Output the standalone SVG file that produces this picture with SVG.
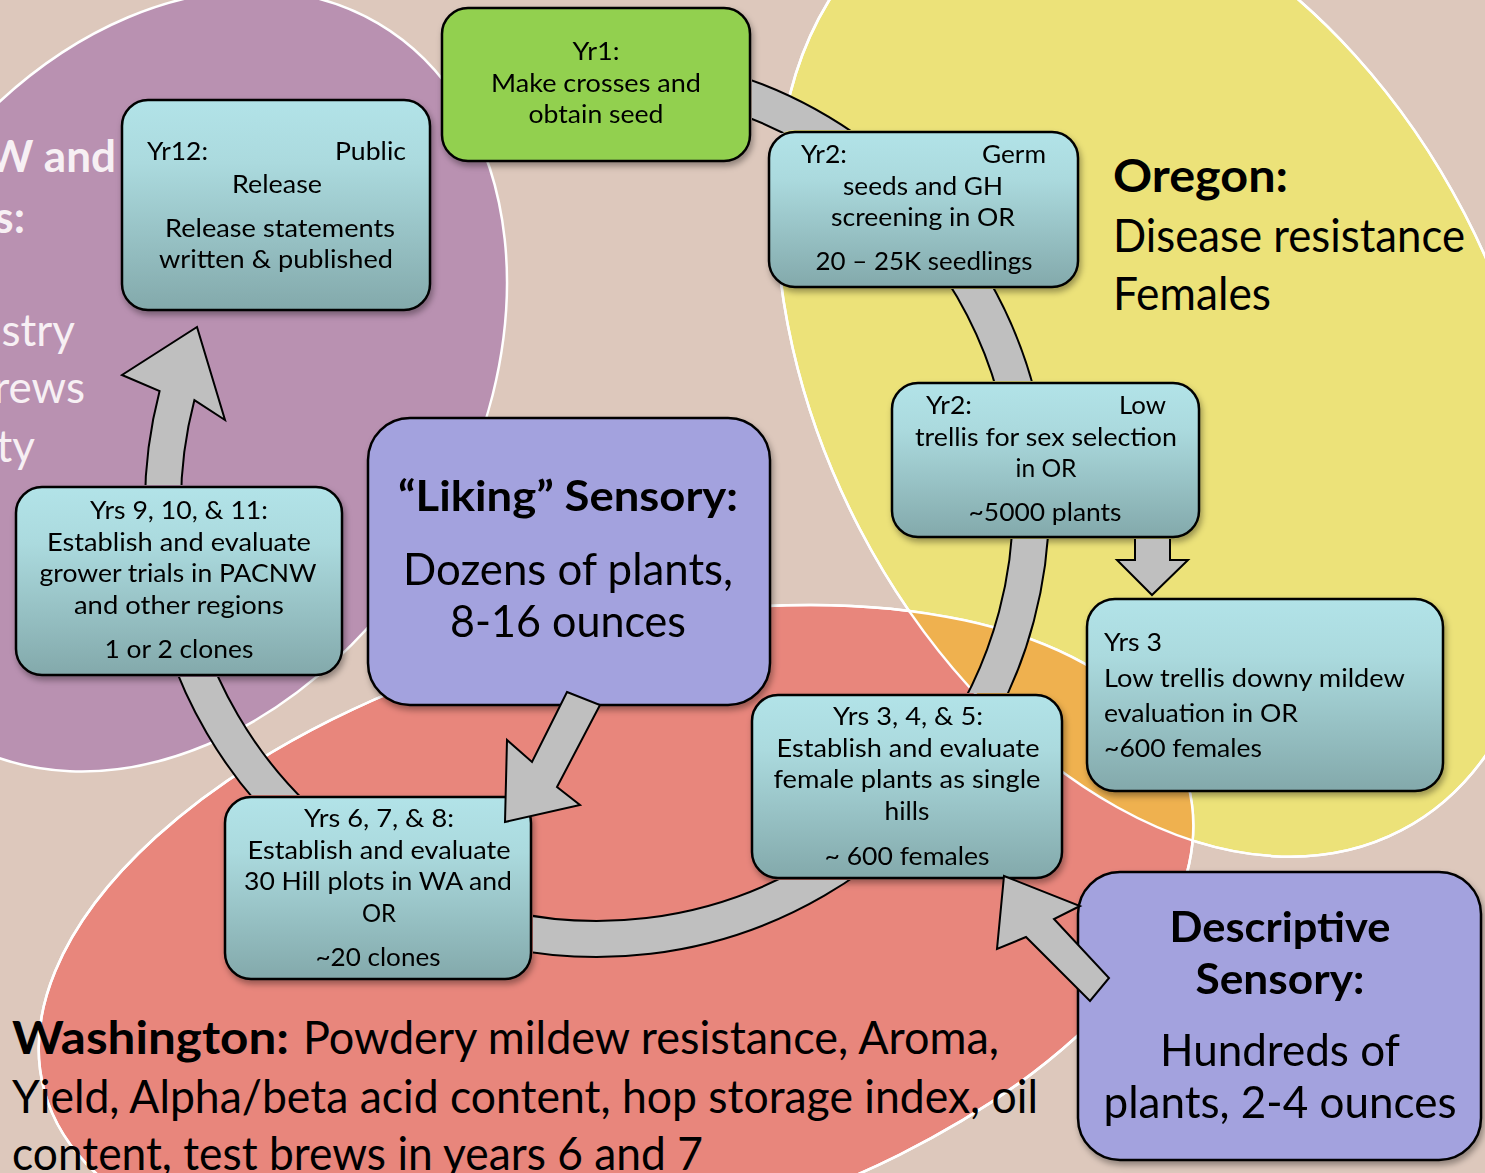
<svg xmlns="http://www.w3.org/2000/svg" width="1485" height="1173" viewBox="0 0 1485 1173">
<defs>
<style>
.bg{fill:#ddc8bc}
.zone{stroke:#fff;stroke-width:2.5}
.zline{fill:none;stroke:#fff;stroke-width:2.5}
.teal{fill:url(#tealG);stroke:#000;stroke-width:2.5}
.green{fill:#92d050;stroke:#000;stroke-width:2.5}
.lav{fill:#a3a2de;stroke:#000;stroke-width:2.5}
.arr{fill:#bfbfbf;stroke:#000;stroke-width:2;stroke-linejoin:miter}
text{font-family:Lato,"Liberation Sans",sans-serif;fill:#000}
.t{font-size:25px}
.c{text-anchor:middle}
.e{text-anchor:end}
.big{font-size:44px}
.bigb{font-size:42px;font-weight:bold}
.reg{font-size:46px}
.regb{font-size:46px;font-weight:bold}
.wh{fill:#f7f0f4;font-size:44px}
</style>
<linearGradient id="tealG" x1="0" y1="0" x2="0" y2="1">
<stop offset="0" stop-color="#b2e3e8"/>
<stop offset="0.3" stop-color="#abdade"/>
<stop offset="1" stop-color="#83a9ab"/>
</linearGradient>
<filter id="sh" x="-10%" y="-10%" width="125%" height="130%">
<feDropShadow dx="2" dy="4" stdDeviation="3" flood-color="#000" flood-opacity="0.35"/>
</filter>
<clipPath id="redClip" clipPathUnits="userSpaceOnUse">
<ellipse cx="616" cy="937" rx="592" ry="305" transform="rotate(-15 616 937)"/>
</clipPath>
<mask id="boxMask" maskUnits="userSpaceOnUse" x="0" y="0" width="1485" height="1173">
<rect x="0" y="0" width="1485" height="1173" fill="#fff"/>
<rect x="440" y="6" width="312" height="157" rx="28" fill="#000"/>
<rect x="767" y="130" width="313" height="159" rx="28" fill="#000"/>
<rect x="890" y="381" width="311" height="158" rx="28" fill="#000"/>
<rect x="750" y="693" width="314" height="187" rx="28" fill="#000"/>
<rect x="223" y="795" width="310" height="186" rx="28" fill="#000"/>
<rect x="14" y="485" width="330" height="192" rx="28" fill="#000"/>
</mask>
</defs>

<g id="background">
<rect class="bg" x="0" y="0" width="1485" height="1173"/>
<ellipse class="zone" fill="#b991b1" cx="167.5" cy="381" rx="415" ry="309" transform="rotate(-59.5 167.5 381)"/>
<ellipse class="zone" fill="#ece279" cx="1162" cy="371" rx="518" ry="341" transform="rotate(62.5 1162 371)"/>
<ellipse class="zone" fill="#e8867c" cx="616" cy="937" rx="592" ry="305" transform="rotate(-15 616 937)"/>
<g clip-path="url(#redClip)">
<ellipse fill="#efb14f" cx="1162" cy="371" rx="518" ry="341" transform="rotate(62.5 1162 371)"/>
</g>
<ellipse class="zline" cx="1162" cy="371" rx="518" ry="341" transform="rotate(62.5 1162 371)"/>
<ellipse class="zline" cx="616" cy="937" rx="592" ry="305" transform="rotate(-15 616 937)"/>
</g>

<g id="region-labels">
<text class="wh e" x="116" y="172" font-weight="bold">W and</text>
<text class="wh e" x="25" y="233" font-weight="bold">s:</text>
<text class="wh e" x="75" y="346">stry</text>
<text class="wh e" x="85" y="403">rews</text>
<text class="wh e" x="35" y="462">ty</text>
<text class="regb" x="1113" y="192" textLength="175" lengthAdjust="spacingAndGlyphs">Oregon:</text>
<text class="reg" x="1113" y="252" textLength="352" lengthAdjust="spacingAndGlyphs">Disease resistance</text>
<text class="reg" x="1113" y="310" textLength="158" lengthAdjust="spacingAndGlyphs">Females</text>
<text class="regb" x="12" y="1054" textLength="277" lengthAdjust="spacingAndGlyphs">Washington:</text>
<text class="reg" x="303" y="1054" textLength="696" lengthAdjust="spacingAndGlyphs">Powdery mildew resistance, Aroma,</text>
<text class="reg" x="12" y="1113" textLength="1026" lengthAdjust="spacingAndGlyphs">Yield, Alpha/beta acid content, hop storage index, oil</text>
<text class="reg" x="12" y="1170" textLength="691" lengthAdjust="spacingAndGlyphs">content, test brews in years 6 and 7</text>
</g>

<g id="nodes">
<g id="yr1" filter="url(#sh)">
<rect class="green" x="442" y="8" width="308" height="153" rx="26"/>
<text class="t c" x="596" y="60" textLength="47" lengthAdjust="spacingAndGlyphs">Yr1:</text>
<text class="t c" x="596" y="92" textLength="210" lengthAdjust="spacingAndGlyphs">Make crosses and</text>
<text class="t c" x="596" y="123" textLength="135" lengthAdjust="spacingAndGlyphs">obtain seed</text>
</g>
<g id="yr12" filter="url(#sh)">
<rect class="teal" x="122" y="100" width="308" height="210" rx="26"/>
<text class="t" x="147" y="160" textLength="61" lengthAdjust="spacingAndGlyphs">Yr12:</text>
<text class="t e" x="406" y="160" textLength="71" lengthAdjust="spacingAndGlyphs">Public</text>
<text class="t c" x="277" y="193" textLength="90" lengthAdjust="spacingAndGlyphs">Release</text>
<text class="t c" x="280" y="237" textLength="230" lengthAdjust="spacingAndGlyphs">Release statements</text>
<text class="t c" x="276" y="268" textLength="234" lengthAdjust="spacingAndGlyphs">written &amp; published</text>
</g>
<g id="yr2-germ" filter="url(#sh)">
<rect class="teal" x="769" y="132" width="309" height="155" rx="26"/>
<text class="t" x="801" y="163" textLength="46" lengthAdjust="spacingAndGlyphs">Yr2:</text>
<text class="t e" x="1046" y="163" textLength="64" lengthAdjust="spacingAndGlyphs">Germ</text>
<text class="t c" x="923" y="195" textLength="160" lengthAdjust="spacingAndGlyphs">seeds and GH</text>
<text class="t c" x="923" y="226" textLength="184" lengthAdjust="spacingAndGlyphs">screening in OR</text>
<text class="t c" x="924" y="270" textLength="217" lengthAdjust="spacingAndGlyphs">20 – 25K seedlings</text>
</g>
<g id="yr2-low" filter="url(#sh)">
<rect class="teal" x="892" y="383" width="307" height="154" rx="26"/>
<text class="t" x="926" y="414" textLength="46" lengthAdjust="spacingAndGlyphs">Yr2:</text>
<text class="t e" x="1166" y="414" textLength="47" lengthAdjust="spacingAndGlyphs">Low</text>
<text class="t c" x="1046" y="446" textLength="262" lengthAdjust="spacingAndGlyphs">trellis for sex selection</text>
<text class="t c" x="1046" y="477" textLength="61" lengthAdjust="spacingAndGlyphs">in OR</text>
<text class="t c" x="1045" y="521" textLength="153" lengthAdjust="spacingAndGlyphs">~5000 plants</text>
</g>
<g id="yrs3" filter="url(#sh)">
<rect class="teal" x="1087" y="599" width="356" height="192" rx="28"/>
<text class="t" x="1104" y="651" textLength="58" lengthAdjust="spacingAndGlyphs">Yrs 3</text>
<text class="t" x="1104" y="687" textLength="301" lengthAdjust="spacingAndGlyphs">Low trellis downy mildew</text>
<text class="t" x="1104" y="722" textLength="194" lengthAdjust="spacingAndGlyphs">evaluation in OR</text>
<text class="t" x="1104" y="757" textLength="158" lengthAdjust="spacingAndGlyphs">~600 females</text>
</g>
<g id="yrs3-5" filter="url(#sh)">
<rect class="teal" x="752" y="695" width="310" height="183" rx="26"/>
<text class="t c" x="908" y="725" textLength="150" lengthAdjust="spacingAndGlyphs">Yrs 3, 4, &amp; 5:</text>
<text class="t c" x="908" y="757" textLength="263" lengthAdjust="spacingAndGlyphs">Establish and evaluate</text>
<text class="t c" x="907" y="788" textLength="267" lengthAdjust="spacingAndGlyphs">female plants as single</text>
<text class="t c" x="907" y="820" textLength="45" lengthAdjust="spacingAndGlyphs">hills</text>
<text class="t c" x="907" y="865" textLength="165" lengthAdjust="spacingAndGlyphs">~ 600 females</text>
</g>
<g id="yrs6-8" filter="url(#sh)">
<rect class="teal" x="225" y="797" width="306" height="182" rx="26"/>
<text class="t c" x="379" y="827" textLength="150" lengthAdjust="spacingAndGlyphs">Yrs 6, 7, &amp; 8:</text>
<text class="t c" x="379" y="859" textLength="263" lengthAdjust="spacingAndGlyphs">Establish and evaluate</text>
<text class="t c" x="378" y="890" textLength="268" lengthAdjust="spacingAndGlyphs">30 Hill plots in WA and</text>
<text class="t c" x="379" y="922" textLength="34" lengthAdjust="spacingAndGlyphs">OR</text>
<text class="t c" x="378" y="966" textLength="125" lengthAdjust="spacingAndGlyphs">~20 clones</text>
</g>
<g id="yrs9-11" filter="url(#sh)">
<rect class="teal" x="16" y="487" width="326" height="188" rx="26"/>
<text class="t c" x="179" y="519" textLength="178" lengthAdjust="spacingAndGlyphs">Yrs 9, 10, &amp; 11:</text>
<text class="t c" x="179" y="551" textLength="264" lengthAdjust="spacingAndGlyphs">Establish and evaluate</text>
<text class="t c" x="178" y="582" textLength="277" lengthAdjust="spacingAndGlyphs">grower trials in PACNW</text>
<text class="t c" x="179" y="614" textLength="210" lengthAdjust="spacingAndGlyphs">and other regions</text>
<text class="t c" x="179" y="658" textLength="149" lengthAdjust="spacingAndGlyphs">1 or 2 clones</text>
</g>
<g id="liking" filter="url(#sh)">
<rect class="lav" x="368" y="418" width="402" height="287" rx="42"/>
<text class="bigb c" x="568" y="511" textLength="340" lengthAdjust="spacingAndGlyphs">“Liking” Sensory:</text>
<text class="big c" x="568" y="585" textLength="330" lengthAdjust="spacingAndGlyphs">Dozens of plants,</text>
<text class="big c" x="568" y="637" textLength="236" lengthAdjust="spacingAndGlyphs">8-16 ounces</text>
</g>
<g id="descriptive" filter="url(#sh)">
<rect class="lav" x="1078" y="872" width="403" height="288" rx="42"/>
<text class="bigb c" x="1280" y="942" textLength="221" lengthAdjust="spacingAndGlyphs">Descriptive</text>
<text class="bigb c" x="1280" y="994" textLength="169" lengthAdjust="spacingAndGlyphs">Sensory:</text>
<text class="big c" x="1280" y="1066" textLength="240" lengthAdjust="spacingAndGlyphs">Hundreds of</text>
<text class="big c" x="1280" y="1118" textLength="353" lengthAdjust="spacingAndGlyphs">plants, 2-4 ounces</text>
</g>
</g>

<g id="connectors">
<path class="arr" mask="url(#boxMask)" d="M714,68.4 A452,452 0 1 1 159.6,391 L122,375 L197,327 L225,420 L194.4,400.1 A416,416 0 1 0 704.7,103.2 Z"/>
<path class="arr" mask="url(#boxMask)" d="M1135,530 L1170,530 L1170,560 L1188,560 L1152,595 L1117,560 L1135,560 Z"/>
<path class="arr" d="M567,692 L600,705 L557,787 L580,805 L505,822 L507,740 L532,762 Z"/>
<path class="arr" d="M1004,876 L1080,906 L1054,919 L1109,978 L1090,1001 L1026,937 L997,949 Z"/>
</g>
</svg>
